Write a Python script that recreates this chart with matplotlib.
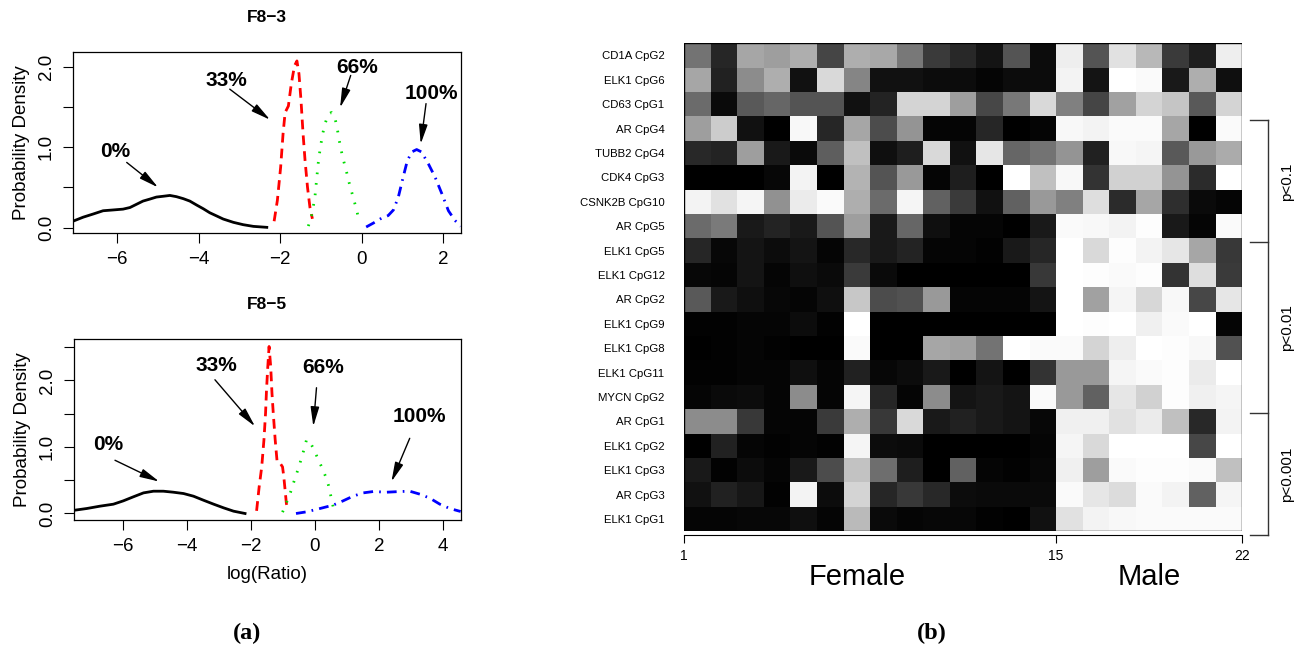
import numpy as np
import matplotlib
matplotlib.use("Agg")
import matplotlib.pyplot as plt
from matplotlib.patches import Rectangle
from matplotlib.transforms import ScaledTranslation, blended_transform_factory

plt.rcParams["font.family"] = ["Liberation Sans", "DejaVu Sans"]

# ---------------- panel (a): density curves ----------------
# F8-3
f83_x0 = [-7.09, -6.84, -6.59, -6.35, -6.10, -5.86, -5.69, -5.53, -5.37, -5.20, -5.04, -4.87,
          -4.71, -4.55, -4.38, -4.22, -4.05, -3.89, -3.73, -3.56, -3.40, -3.15, -2.91, -2.66, -2.33]
f83_y0 = [0.08, 0.13, 0.17, 0.21, 0.22, 0.23, 0.25, 0.29, 0.33, 0.355, 0.38, 0.39,
          0.40, 0.385, 0.36, 0.33, 0.28, 0.235, 0.185, 0.145, 0.107, 0.066, 0.037, 0.016, 0.004]
f83_x33 = [-2.15, -2.07, -1.99, -1.93, -1.88, -1.80, -1.73, -1.65, -1.59, -1.54, -1.49,
           -1.44, -1.39, -1.33, -1.27, -1.21]
f83_y33 = [0.08, 0.34, 0.75, 1.17, 1.43, 1.51, 1.78, 2.01, 2.07, 1.91, 1.58,
           1.17, 0.83, 0.50, 0.25, 0.11]
f83_x66 = [-1.31, -1.23, -1.15, -1.11, -1.07, -1.02, -0.96, -0.90, -0.82, -0.74, -0.66,
           -0.60, -0.55, -0.47, -0.38, -0.29, -0.21, -0.12, -0.08]
f83_y66 = [0.02, 0.15, 0.37, 0.58, 0.79, 0.98, 1.16, 1.29, 1.41, 1.43, 1.37,
           1.23, 1.08, 0.88, 0.71, 0.52, 0.38, 0.21, 0.12]
f83_x100 = [0.11, 0.29, 0.45, 0.65, 0.78, 0.90, 1.02, 1.12, 1.23, 1.35, 1.47, 1.64,
            1.80, 1.97, 2.13, 2.29, 2.43]
f83_y100 = [0.008, 0.058, 0.107, 0.15, 0.22, 0.38, 0.63, 0.83, 0.94, 0.97, 0.94, 0.79,
            0.63, 0.42, 0.21, 0.09, 0.016]

# F8-5
f85_x0 = [-7.49, -7.12, -6.71, -6.29, -5.98, -5.67, -5.35, -5.04, -4.73, -4.42, -4.10,
          -3.79, -3.48, -3.16, -2.85, -2.54, -2.18]
f85_y0 = [0.05, 0.075, 0.11, 0.14, 0.19, 0.25, 0.31, 0.335, 0.335, 0.32, 0.30,
          0.26, 0.20, 0.14, 0.085, 0.035, 0.0]
f85_x33 = [-1.82, -1.74, -1.66, -1.59, -1.54, -1.51, -1.47, -1.43, -1.38, -1.34, -1.30,
           -1.24, -1.18, -1.09, -1.01, -0.97, -0.93, -0.89, -0.84]
f85_y33 = [0.04, 0.40, 0.70, 1.11, 1.51, 1.86, 2.21, 2.51, 2.21, 1.81, 1.51,
           1.11, 0.78, 0.76, 0.70, 0.55, 0.35, 0.15, 0.05]
f85_x66 = [-1.01, -0.88, -0.76, -0.62, -0.50, -0.36, -0.26, -0.16, -0.05, 0.07, 0.21,
           0.34, 0.42, 0.49, 0.57]
f85_y66 = [0.02, 0.17, 0.32, 0.53, 0.70, 0.93, 1.11, 1.08, 0.98, 0.85, 0.70,
           0.55, 0.43, 0.28, 0.10]
f85_x100 = [-0.59, -0.26, 0.16, 0.57, 0.88, 1.19, 1.51, 1.82, 2.24, 2.65, 2.96, 3.28,
            3.59, 3.90, 4.21, 4.55]
f85_y100 = [0.0, 0.025, 0.075, 0.126, 0.19, 0.26, 0.31, 0.33, 0.32, 0.33, 0.335, 0.29,
            0.23, 0.14, 0.075, 0.03]

pct_labels = ["0%", "33%", "66%", "100%"]
# (label x, label y, arrow start x, arrow start y, arrow tip x, arrow tip y)
f83_notes = [(-6.06, 0.94, -5.77, 0.81, -5.00, 0.50),
             (-3.32, 1.83, -3.24, 1.72, -2.25, 1.34),
             (-0.12, 1.99, -0.27, 1.89, -0.53, 1.49),
             (1.70, 1.66, 1.58, 1.54, 1.45, 1.04)]
f85_notes = [(-6.45, 1.03, -6.24, 0.80, -4.86, 0.48),
             (-3.09, 2.22, -3.12, 2.01, -1.87, 1.31),
             (0.26, 2.19, 0.05, 1.89, -0.05, 1.31),
             (3.26, 1.46, 2.96, 1.13, 2.39, 0.48)]

f83_xticks = [-6, -4, -2, 0, 2]
f85_xticks = [-6, -4, -2, 0, 2, 4]
f83_yticks = [0.0, 0.5, 1.0, 1.5, 2.0]
f83_yticklabels = ["0.0", "", "1.0", "", "2.0"]
f85_yticks = [0.0, 0.5, 1.0, 1.5, 2.0, 2.5]
f85_yticklabels = ["0.0", "", "1.0", "", "2.0", ""]

# ---------------- panel (b): methylation heatmap ----------------
row_labels = ["CD1A CpG2", "ELK1 CpG6", "CD63 CpG1", "AR CpG4", "TUBB2 CpG4", "CDK4 CpG3",
              "CSNK2B CpG10", "AR CpG5", "ELK1 CpG5", "ELK1 CpG12", "AR CpG2", "ELK1 CpG9",
              "ELK1 CpG8", "ELK1 CpG11", "MYCN CpG2", "AR CpG1", "ELK1 CpG2", "ELK1 CpG3",
              "AR CpG3", "ELK1 CpG1"]
meth = [
    [0.45, 0.15, 0.65, 0.62, 0.68, 0.27, 0.68, 0.66, 0.47, 0.23, 0.16, 0.08, 0.33, 0.05, 0.93, 0.33, 0.88, 0.72, 0.23, 0.12, 0.93],
    [0.65, 0.13, 0.55, 0.68, 0.07, 0.85, 0.52, 0.07, 0.07, 0.05, 0.05, 0.02, 0.05, 0.05, 0.95, 0.08, 1.00, 0.98, 0.10, 0.68, 0.06],
    [0.42, 0.04, 0.35, 0.40, 0.33, 0.33, 0.07, 0.14, 0.83, 0.83, 0.62, 0.28, 0.47, 0.85, 0.50, 0.27, 0.63, 0.83, 0.77, 0.35, 0.83],
    [0.62, 0.80, 0.07, 0.00, 0.97, 0.15, 0.65, 0.30, 0.58, 0.02, 0.02, 0.15, 0.00, 0.02, 0.97, 0.95, 0.98, 0.98, 0.65, 0.00, 0.98],
    [0.16, 0.14, 0.62, 0.10, 0.04, 0.37, 0.75, 0.06, 0.12, 0.85, 0.07, 0.90, 0.40, 0.45, 0.58, 0.13, 0.97, 0.96, 0.35, 0.60, 0.67],
    [0.00, 0.00, 0.00, 0.03, 0.95, 0.00, 0.70, 0.33, 0.60, 0.02, 0.12, 0.00, 1.00, 0.75, 0.97, 0.20, 0.82, 0.82, 0.58, 0.17, 1.00],
    [0.95, 0.88, 0.96, 0.57, 0.92, 0.98, 0.68, 0.42, 0.96, 0.38, 0.23, 0.07, 0.38, 0.60, 0.50, 0.87, 0.17, 0.65, 0.18, 0.04, 0.02],
    [0.42, 0.48, 0.10, 0.14, 0.10, 0.33, 0.62, 0.10, 0.40, 0.06, 0.02, 0.02, 0.00, 0.10, 0.98, 0.97, 0.95, 0.99, 0.10, 0.02, 0.98],
    [0.15, 0.03, 0.08, 0.05, 0.08, 0.02, 0.16, 0.10, 0.14, 0.02, 0.02, 0.01, 0.10, 0.15, 1.00, 0.85, 0.99, 0.95, 0.90, 0.65, 0.22],
    [0.03, 0.02, 0.08, 0.02, 0.06, 0.04, 0.23, 0.04, 0.00, 0.00, 0.00, 0.00, 0.00, 0.22, 1.00, 0.99, 0.98, 0.99, 0.20, 0.87, 0.23],
    [0.35, 0.10, 0.06, 0.03, 0.02, 0.06, 0.78, 0.30, 0.32, 0.60, 0.02, 0.02, 0.02, 0.08, 1.00, 0.63, 0.96, 0.84, 0.97, 0.28, 0.90],
    [0.01, 0.01, 0.02, 0.02, 0.05, 0.01, 1.00, 0.00, 0.00, 0.00, 0.00, 0.00, 0.00, 0.00, 1.00, 0.99, 1.00, 0.94, 0.98, 1.00, 0.02],
    [0.00, 0.01, 0.02, 0.01, 0.00, 0.00, 0.98, 0.00, 0.00, 0.65, 0.63, 0.45, 1.00, 0.98, 0.98, 0.83, 0.93, 1.00, 0.99, 0.97, 0.32],
    [0.01, 0.01, 0.02, 0.02, 0.06, 0.02, 0.13, 0.03, 0.05, 0.10, 0.00, 0.08, 0.00, 0.20, 0.60, 0.60, 0.96, 0.98, 0.99, 0.92, 1.00],
    [0.02, 0.04, 0.05, 0.02, 0.55, 0.02, 0.96, 0.15, 0.02, 0.55, 0.08, 0.10, 0.08, 0.98, 0.60, 0.38, 0.90, 0.82, 0.99, 0.94, 0.96],
    [0.55, 0.55, 0.22, 0.02, 0.02, 0.23, 0.68, 0.22, 0.85, 0.10, 0.13, 0.10, 0.08, 0.03, 0.94, 0.94, 0.88, 0.92, 0.75, 0.16, 0.95],
    [0.00, 0.13, 0.02, 0.01, 0.02, 0.01, 0.96, 0.05, 0.04, 0.00, 0.00, 0.00, 0.00, 0.02, 0.96, 0.85, 1.00, 1.00, 1.00, 0.28, 1.00],
    [0.10, 0.01, 0.05, 0.02, 0.10, 0.30, 0.76, 0.43, 0.12, 0.00, 0.38, 0.02, 0.01, 0.03, 0.94, 0.62, 0.98, 0.99, 0.99, 0.98, 0.75],
    [0.07, 0.13, 0.09, 0.01, 0.95, 0.05, 0.83, 0.15, 0.22, 0.16, 0.05, 0.04, 0.04, 0.04, 0.98, 0.90, 0.86, 0.98, 0.95, 0.38, 0.96],
    [0.02, 0.02, 0.03, 0.03, 0.06, 0.02, 0.73, 0.04, 0.02, 0.03, 0.03, 0.01, 0.00, 0.07, 0.88, 0.95, 0.97, 0.98, 0.98, 0.98, 0.98],
]
sample_ticks = [1, 15, 22]
groups = [("Female", 1, 15), ("Male", 15, 22)]
# bracket rows (row boundaries) and labels
p_bounds = [3, 8, 15, 20]
p_labels = ["p<0.1", "p<0.01", "p<0.001"]

CURVES = [("black", "-"), ("#FF0000", (0, (3.5, 2.2))), ("#00DD00", (0, (0.6, 3.2))),
          ("#0000FF", (0, (3.5, 2.2, 0.6, 2.2)))]


def density_panel(ax, xs, ys, notes, xlim, ylim, xticks, yticks, yticklabels, title):
    for (x, y), (c, ls) in zip(zip(xs, ys), CURVES):
        ax.plot(x, y, color=c, ls=ls, lw=2.0)
    for lab, (tx, ty, sx, sy, hx, hy) in zip(pct_labels, notes):
        ax.text(tx, ty, lab, ha="center", va="center", fontsize=15, fontweight="bold")
        ax.annotate("", xy=(hx, hy), xytext=(sx, sy),
                    arrowprops=dict(arrowstyle="-|>,head_length=0.9,head_width=0.2",
                                    color="black", lw=1.0, mutation_scale=13,
                                    shrinkA=0, shrinkB=0))
    ax.set_xlim(*xlim)
    ax.set_ylim(*ylim)
    ax.set_xticks(xticks)
    ax.set_yticks(yticks)
    ax.set_yticklabels(yticklabels, rotation=90, va="center")
    ax.tick_params(direction="out", length=7, width=0.8, labelsize=13.5)
    ax.tick_params(axis="x", pad=6)
    ax.tick_params(axis="y", pad=6)
    for s in ax.spines.values():
        s.set_linewidth(0.9)
    ax.set_ylabel("Probability Density", fontsize=13.5, labelpad=6)
    ax.set_title(title, fontsize=12.5, fontweight="bold", pad=22)


fig = plt.figure(figsize=(12.98, 6.51), dpi=100)

ax1 = fig.add_axes([0.0562, 0.642, 0.2990, 0.278])
density_panel(ax1, [f83_x0, f83_x33, f83_x66, f83_x100], [f83_y0, f83_y33, f83_y66, f83_y100],
              f83_notes, (-7.09, 2.44), (-0.067, 2.18), f83_xticks, f83_yticks,
              f83_yticklabels, "F8\u22123")

ax2 = fig.add_axes([0.0570, 0.201, 0.2979, 0.278])
density_panel(ax2, [f85_x0, f85_x33, f85_x66, f85_x100], [f85_y0, f85_y33, f85_y66, f85_y100],
              f85_notes, (-7.52, 4.55), (-0.10, 2.62), f85_xticks, f85_yticks,
              f85_yticklabels, "F8\u22125")
ax2.set_xlabel("log(Ratio)", fontsize=13.5, labelpad=8)

# heatmap
axh = fig.add_axes([0.527, 0.184, 0.430, 0.7496])
vals = np.array(meth)
n_rows, n_cols = vals.shape
axh.pcolormesh(np.arange(1, n_cols + 2), np.arange(n_rows + 1), vals,
               cmap="gray", vmin=0, vmax=1, shading="flat")
axh.set_xlim(1, n_cols + 1)
axh.set_ylim(n_rows, 0)
axh.add_patch(Rectangle((1, 0), n_cols, n_rows, fill=False, lw=1.0, ec="black", zorder=3))
axh.set_yticks(np.arange(n_rows) + 0.5)
axh.set_yticklabels(row_labels, fontsize=8.2)
axh.tick_params(axis="y", length=0, pad=14)
axh.set_xticks(sample_ticks)
axh.set_xticklabels([str(t) for t in sample_ticks], fontsize=7.5)
axh.tick_params(axis="x", length=6, width=0.8, pad=4)
for side in ("top", "right", "left"):
    axh.spines[side].set_visible(False)
axh.spines["bottom"].set_position(("outward", 3))
axh.spines["bottom"].set_linewidth(0.8)

fig_y = blended_transform_factory(axh.transData, fig.transFigure)
for name, a, b in groups:
    axh.text((a + b) / 2 - 0.5 * (name == "Female"), 1 - 577 / 651, name,
             transform=fig_y, ha="center", va="center", fontsize=21)

# significance brackets, shifted a few pixels down as in the original
shift = axh.transData + ScaledTranslation(0, -4 / 100, fig.dpi_scale_trans)
xb0, xb1, xl = n_cols + 1.3, n_cols + 1.98, n_cols + 2.7
axh.plot([xb1, xb1], [p_bounds[0], p_bounds[-1]], color="#333333", lw=1.0,
         transform=shift, clip_on=False)
for yb in p_bounds:
    axh.plot([xb0, xb1], [yb, yb], color="#333333", lw=1.0, transform=shift, clip_on=False)
for lab, y0, y1 in zip(p_labels, p_bounds[:-1], p_bounds[1:]):
    axh.text(xl, (y0 + y1) / 2, lab, rotation=90, ha="center", va="center",
             fontsize=11, transform=shift, clip_on=False)

fig.text(247 / 1298, 1 - 633 / 651, "(a)", ha="center", va="center", fontsize=17.5,
         fontweight="bold", family=["Liberation Serif", "DejaVu Serif"])
fig.text(932 / 1298, 1 - 633 / 651, "(b)", ha="center", va="center", fontsize=17.5,
         fontweight="bold", family=["Liberation Serif", "DejaVu Serif"])

fig.savefig("out.png", dpi=100)
